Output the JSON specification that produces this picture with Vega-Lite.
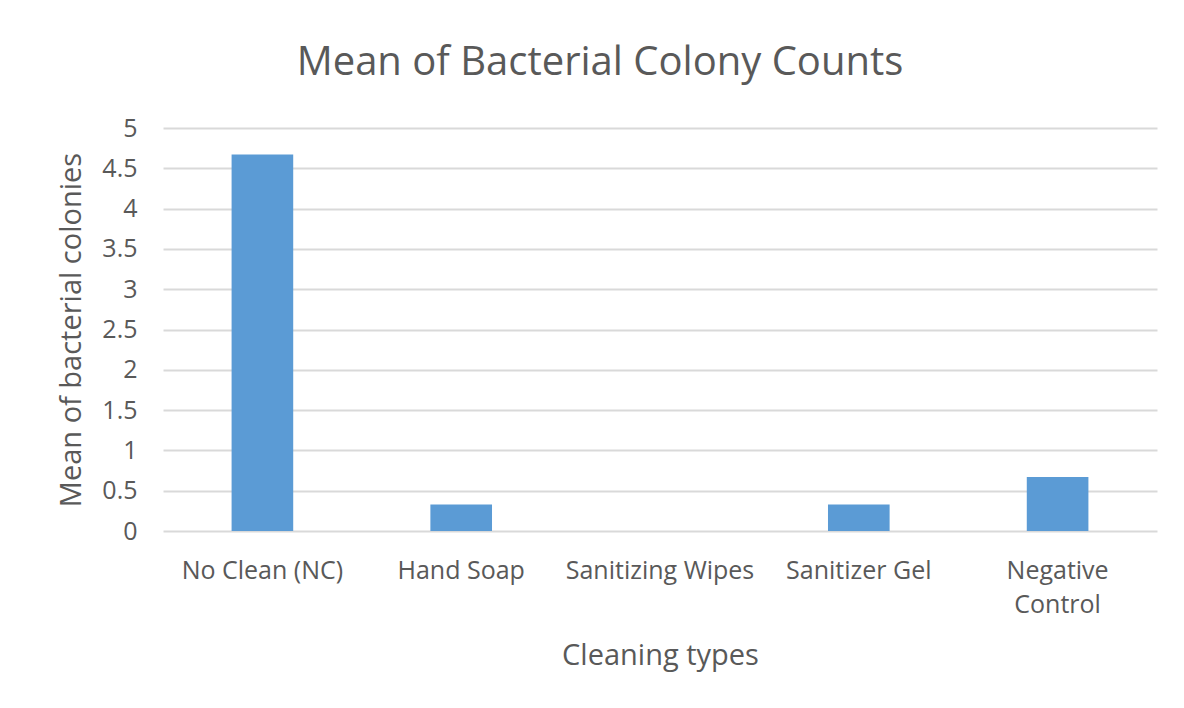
{
  "$schema": "https://vega.github.io/schema/vega-lite/v6.json",
  "width": 994,
  "height": 403,
  "autosize": {"type": "none"},
  "padding": {"left": 163, "top": 128, "right": 27, "bottom": 177},
  "background": "white",
  "title": {
    "text": "Mean of Bacterial Colony Counts",
    "font": "Open Sans",
    "fontSize": 40,
    "fontWeight": "normal",
    "color": "#595959",
    "anchor": "middle",
    "dx": -60,
    "offset": 33
  },
  "data": {
    "values": [
      {"type": "No Clean (NC)", "mean": 4.67},
      {"type": "Hand Soap", "mean": 0.33},
      {"type": "Sanitizing Wipes", "mean": 0},
      {"type": "Sanitizer Gel", "mean": 0.33},
      {"type": "Negative Control", "mean": 0.67}
    ]
  },
  "mark": {"type": "bar", "color": "#5b9bd5"},
  "encoding": {
    "x": {
      "field": "type",
      "type": "nominal",
      "sort": null,
      "scale": {"paddingInner": 0.69, "paddingOuter": 0.345},
      "axis": {
        "title": "Cleaning types",
        "labelAngle": 0,
        "labelExpr": "datum.value == 'Negative Control' ? ['Negative', 'Control'] : datum.value",
        "labelLineHeight": 34,
        "labelBaseline": "top",
        "labelPadding": 27,
        "labelLimit": 400,
        "labelOverlap": false,
        "ticks": false,
        "domain": false,
        "titlePadding": 24
      }
    },
    "y": {
      "field": "mean",
      "type": "quantitative",
      "scale": {"domain": [0, 5]},
      "axis": {
        "title": "Mean of bacterial colonies",
        "values": [0, 0.5, 1, 1.5, 2, 2.5, 3, 3.5, 4, 4.5, 5],
        "format": "~g",
        "ticks": false,
        "domain": false,
        "labelPadding": 26,
        "titlePadding": 15
      }
    }
  },
  "config": {
    "view": {"stroke": null},
    "axis": {
      "labelFont": "Open Sans",
      "titleFont": "Open Sans",
      "labelFontSize": 25,
      "titleFontSize": 29,
      "labelColor": "#595959",
      "titleColor": "#595959",
      "titleFontWeight": "normal",
      "gridColor": "#d9d9d9",
      "gridWidth": 2
    },
    "axisX": {"grid": false},
    "axisY": {"grid": true}
  }
}
